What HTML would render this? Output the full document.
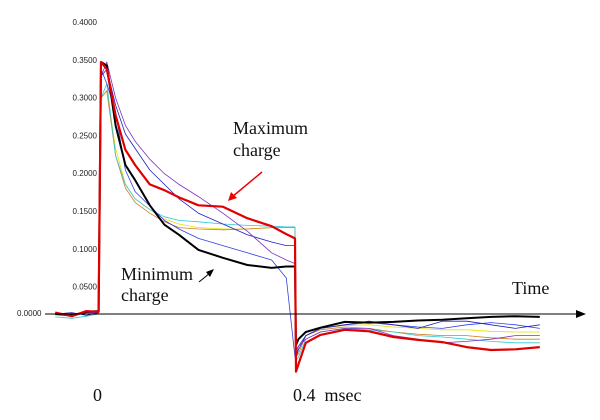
<!DOCTYPE html>
<html><head><meta charset="utf-8"><style>
body{margin:0;background:#fff;}
svg{display:block;}
.tk{font-family:"Liberation Sans",sans-serif;font-size:8px;fill:#222;}
.lb{font-family:"Liberation Serif",serif;font-size:18px;fill:#111;}
</style></head><body>
<svg id="c" width="600" height="420">
<g id="series"></g>
<g id="axes"></g>
<text class="lb" x="233" y="134">Maximum</text>
<text class="lb" x="233" y="156">charge</text>
<line x1="262" y1="172" x2="232" y2="197" stroke="#e00" stroke-width="1.5"/>
<polygon points="228,201 231,192 237,198" fill="#e00"/>
<text class="lb" x="121" y="280">Minimum</text>
<text class="lb" x="121" y="301">charge</text>
<line x1="199" y1="282" x2="210" y2="273" stroke="#000" stroke-width="1"/>
<polygon points="214,269 206,272 210,277" fill="#000"/>
<text class="lb" x="512" y="294">Time</text>
<text class="lb" x="93" y="401">0</text>
<text class="lb" x="293" y="401">0.4&#160; msec</text>
</svg>
<script>
const times=[-0.094,-0.06,-0.03,-0.005,0,0.012,0.03,0.05,0.07,0.1,0.13,0.16,0.2,0.25,0.3,0.35,0.38,0.398,0.4,0.405,0.42,0.45,0.5,0.55,0.6,0.65,0.7,0.75,0.8,0.85,0.9];
const redVals=[0.002,-0.003,0.004,0.003,0.35,0.34,0.276,0.228,0.207,0.18,0.172,0.162,0.151,0.149,0.133,0.122,0.111,0.105,-0.08,-0.07,-0.04,-0.029,-0.022,-0.024,-0.032,-0.036,-0.039,-0.046,-0.05,-0.049,-0.046];
const blackVals=[0,-0.002,0.003,0.004,0.35,0.345,0.262,0.207,0.186,0.151,0.124,0.110,0.089,0.078,0.068,0.064,0.066,0.066,-0.043,-0.035,-0.025,-0.019,-0.011,-0.012,-0.011,-0.009,-0.008,-0.006,-0.004,-0.003,-0.004];
const purpleVals=[0,-0.003,0.002,0.003,0.33,0.35,0.3,0.262,0.24,0.215,0.195,0.18,0.163,0.14,0.115,0.085,0.075,0.07,-0.05,-0.045,-0.035,-0.025,-0.02,-0.02,-0.03,-0.035,-0.04,-0.038,-0.035,-0.03,-0.03];
const blueVals=[0,0.002,-0.002,0.002,0.33,0.34,0.29,0.25,0.23,0.2,0.18,0.16,0.14,0.125,0.11,0.1,0.095,0.095,-0.06,-0.05,-0.03,-0.02,-0.015,-0.01,-0.015,-0.02,-0.01,-0.01,-0.015,-0.02,-0.015];
const cyanVals=[-0.004,-0.006,-0.003,0,0.3,0.32,0.22,0.18,0.16,0.145,0.135,0.13,0.128,0.125,0.123,0.122,0.121,0.121,-0.065,-0.06,-0.035,-0.025,-0.02,-0.022,-0.025,-0.03,-0.032,-0.035,-0.038,-0.04,-0.04];
const orangeVals=[0,0.001,0,0.002,0.3,0.31,0.22,0.175,0.155,0.14,0.128,0.12,0.118,0.117,0.118,0.12,0.12,0.12,-0.06,-0.055,-0.03,-0.022,-0.018,-0.02,-0.025,-0.028,-0.03,-0.03,-0.033,-0.035,-0.035];
const yellowVals=[0,0,0.001,0.001,0.3,0.31,0.23,0.18,0.16,0.145,0.132,0.125,0.12,0.118,0.118,0.12,0.12,0.12,-0.06,-0.05,-0.03,-0.02,-0.016,-0.015,-0.018,-0.02,-0.022,-0.022,-0.024,-0.025,-0.025];
const blue2Vals=[0,0,0.002,0.002,0.34,0.32,0.28,0.2,0.17,0.15,0.13,0.118,0.105,0.095,0.085,0.075,0.05,-0.06,-0.06,-0.045,-0.03,-0.02,-0.015,-0.012,-0.015,-0.018,-0.02,-0.015,-0.012,-0.015,-0.02];
const yTickLabels=["0.4000","0.3500","0.3000","0.2500","0.2000","0.1500","0.1000","0.0500"];
const zeroLabel="0.0000";
const NS="http://www.w3.org/2000/svg";
const X=t=>101+t*487.5;
const Y=v=>314-v*720;
const sg=document.getElementById('series');
function draw(vals,color,w,name){
  const p=document.createElementNS(NS,'polyline');
  p.setAttribute('points',times.map((t,i)=>X(t).toFixed(1)+','+Y(vals[i]).toFixed(1)).join(' '));
  p.setAttribute('fill','none');p.setAttribute('stroke',color);p.setAttribute('stroke-width',w);
  p.setAttribute('stroke-linejoin','round');
  
  
  sg.appendChild(p);
}
draw(yellowVals,'#e8e000',0.8,'series-yellow');
draw(orangeVals,'#d08020',0.8,'series-orange');
draw(cyanVals,'#30c8d8',0.8,'series-cyan');
draw(blue2Vals,'#3040e0',0.8,'series-blue-low');
draw(blueVals,'#2020c0',0.8,'series-blue');
draw(purpleVals,'#8030c0',0.8,'series-purple');
draw(blackVals,'#000',2,'series-minimum');
draw(redVals,'#e00000',2.2,'series-maximum');
const ax=document.getElementById('axes');
const l=document.createElementNS(NS,'line');
l.setAttribute('x1',45);l.setAttribute('y1',314);l.setAttribute('x2',580);l.setAttribute('y2',314);
l.setAttribute('stroke','#000');l.setAttribute('stroke-width','1');


ax.appendChild(l);
const ah=document.createElementNS(NS,'polygon');
ah.setAttribute('points','586,314 576,310 576,318');


ax.appendChild(ah);
yTickLabels.forEach((s,i)=>{
  const t=document.createElementNS(NS,'text');
  t.setAttribute('class','tk');t.setAttribute('x',97);t.setAttribute('y',25+i*37.8);
  t.setAttribute('text-anchor','end');t.textContent=s;
  
  
  ax.appendChild(t);
});
const z=document.createElementNS(NS,'text');
z.setAttribute('class','tk');z.setAttribute('x',17);z.setAttribute('y',316);z.textContent=zeroLabel;


ax.appendChild(z);
</script>
</body></html>
